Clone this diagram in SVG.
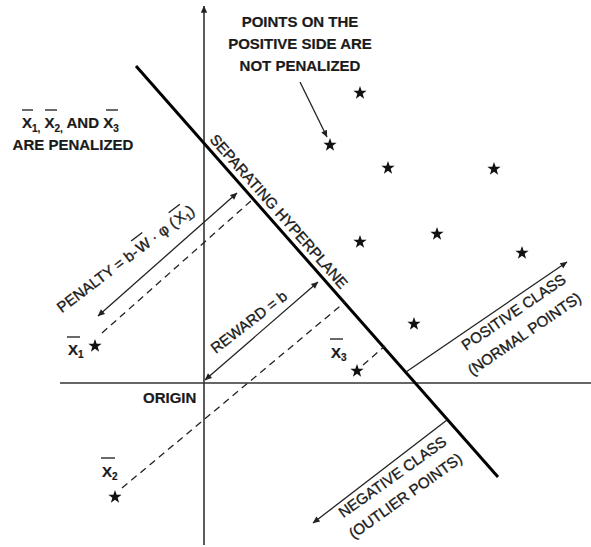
<svg xmlns="http://www.w3.org/2000/svg" width="591" height="547" viewBox="0 0 591 547">
<style>
  .lbl { font-family: "Liberation Sans", Arial, sans-serif; font-size: 15px; fill: #1a1a1a; stroke: #1a1a1a; stroke-width: 0.35; }
  .bold { font-weight: bold; stroke-width: 0.2; }
  .axis { stroke: #333; stroke-width: 1.6; fill: none; }
  .plane { stroke: #000; stroke-width: 3; fill: none; }
  .arrow { stroke: #222; stroke-width: 1.3; fill: none; }
  .dash { stroke: #222; stroke-width: 1.3; fill: none; stroke-dasharray: 7 5; }
  .bar { stroke: #1a1a1a; stroke-width: 1.3; }
  .star { fill: #111; }
</style>
<defs>
  <marker id="ah" viewBox="0 0 10 10" refX="9.5" refY="5" markerUnits="userSpaceOnUse" markerWidth="9" markerHeight="7" orient="auto-start-reverse">
    <path d="M0,0.5 L10,5 L0,9.5 z" fill="#222"/>
  </marker>
  <path id="st" d="M0,-7 L1.65,-2.27 L6.66,-2.16 L2.66,0.87 L4.11,5.66 L0,2.8 L-4.11,5.66 L-2.66,0.87 L-6.66,-2.16 L-1.65,-2.27 Z"/>
</defs>

<g id="axes">
  <line class="axis" x1="204" y1="545" x2="204" y2="6" marker-end="url(#ah)"/>
  <line class="axis" x1="60" y1="383" x2="591" y2="383"/>
</g>

<g id="hyperplane">
  <line class="plane" x1="136" y1="66" x2="498" y2="477"/>
</g>

<g id="connectors">
  <line class="arrow" x1="98" y1="316" x2="237" y2="193" marker-start="url(#ah)" marker-end="url(#ah)"/>
  <line class="arrow" x1="205" y1="380" x2="318" y2="282" marker-start="url(#ah)" marker-end="url(#ah)"/>
  <line class="arrow" x1="406" y1="372" x2="567" y2="262" marker-end="url(#ah)"/>
  <line class="arrow" x1="447" y1="420" x2="313" y2="523" marker-end="url(#ah)"/>
  <line class="arrow" x1="300" y1="82" x2="327" y2="137" marker-end="url(#ah)"/>
  <line class="dash" x1="102" y1="333" x2="252" y2="200"/>
  <line class="dash" x1="122" y1="488" x2="345" y2="302"/>
  <line class="dash" x1="363" y1="365" x2="385" y2="346"/>
</g>

<g id="stars-positive">
  <use href="#st" class="star" x="360" y="93"/>
  <use href="#st" class="star" x="330" y="145"/>
  <use href="#st" class="star" x="388" y="168"/>
  <use href="#st" class="star" x="494" y="169"/>
  <use href="#st" class="star" x="360" y="242"/>
  <use href="#st" class="star" x="437" y="234"/>
  <use href="#st" class="star" x="522" y="253"/>
  <use href="#st" class="star" x="414" y="324"/>
</g>

<g id="x1-point">
  <use href="#st" class="star" x="95" y="346"/>
  <text class="lbl bold" x="68" y="355">X<tspan font-size="10" dy="3">1</tspan></text>
  <line class="bar" x1="67" y1="337" x2="80" y2="337"/>
</g>

<g id="x2-point">
  <use href="#st" class="star" x="115" y="497"/>
  <text class="lbl bold" x="102" y="477">X<tspan font-size="10" dy="3">2</tspan></text>
  <line class="bar" x1="101" y1="458" x2="115" y2="458"/>
</g>

<g id="x3-point">
  <use href="#st" class="star" x="357" y="371"/>
  <text class="lbl bold" x="331" y="358">X<tspan font-size="10" dy="3">3</tspan></text>
  <line class="bar" x1="330" y1="339" x2="343" y2="339"/>
</g>

<g id="penalized-label">
  <text class="lbl bold" x="22" y="128">X<tspan font-size="10" dy="4">1,</tspan><tspan dy="-4"> X</tspan><tspan font-size="10" dy="4">2,</tspan><tspan dy="-4"> AND X</tspan><tspan font-size="10" dy="4">3</tspan></text>
  <text class="lbl bold" x="73" y="150" text-anchor="middle">ARE PENALIZED</text>
  <line class="bar" x1="22" y1="110" x2="33" y2="110"/>
  <line class="bar" x1="45" y1="110" x2="57" y2="110"/>
  <line class="bar" x1="106" y1="110" x2="118" y2="110"/>
</g>

<g id="not-penalized-label">
  <text class="lbl bold" x="300" y="27" text-anchor="middle">POINTS ON THE</text>
  <text class="lbl bold" x="300" y="49" text-anchor="middle">POSITIVE SIDE ARE</text>
  <text class="lbl bold" x="300" y="71" text-anchor="middle">NOT PENALIZED</text>
</g>

<g id="origin-label">
  <text class="lbl bold" x="143" y="403" font-size="14">ORIGIN</text>
</g>

<g id="hyperplane-label" transform="translate(209,140) rotate(48.6)">
  <text class="lbl" x="0" y="0">SEPARATING HYPERPLANE</text>
</g>

<g id="penalty-label" transform="translate(61.7,313.3) rotate(-37)">
  <text class="lbl" y="0"><tspan x="0">PENALTY = b-</tspan><tspan x="99">W</tspan><tspan x="113"> · φ (</tspan><tspan x="147">X</tspan><tspan font-size="10" dy="3">1</tspan><tspan dy="-3">)</tspan></text>
  <line class="bar" x1="99" y1="-16" x2="113" y2="-16"/>
  <line class="bar" x1="146" y1="-16" x2="160" y2="-16"/>
</g>

<g id="reward-label" transform="translate(215.7,354) rotate(-37.5)">
  <text class="lbl" x="0" y="0">REWARD = b</text>
</g>

<g id="positive-class-label" transform="translate(466,351) rotate(-34.4)">
  <text class="lbl" x="0" y="0">POSITIVE CLASS</text>
  <text class="lbl" x="-9" y="24">(NORMAL POINTS)</text>
</g>

<g id="negative-class-label" transform="translate(343.3,518.3) rotate(-35.5)">
  <text class="lbl" x="0" y="0">NEGATIVE CLASS</text>
  <text class="lbl" x="-4" y="23">(OUTLIER POINTS)</text>
</g>
</svg>
